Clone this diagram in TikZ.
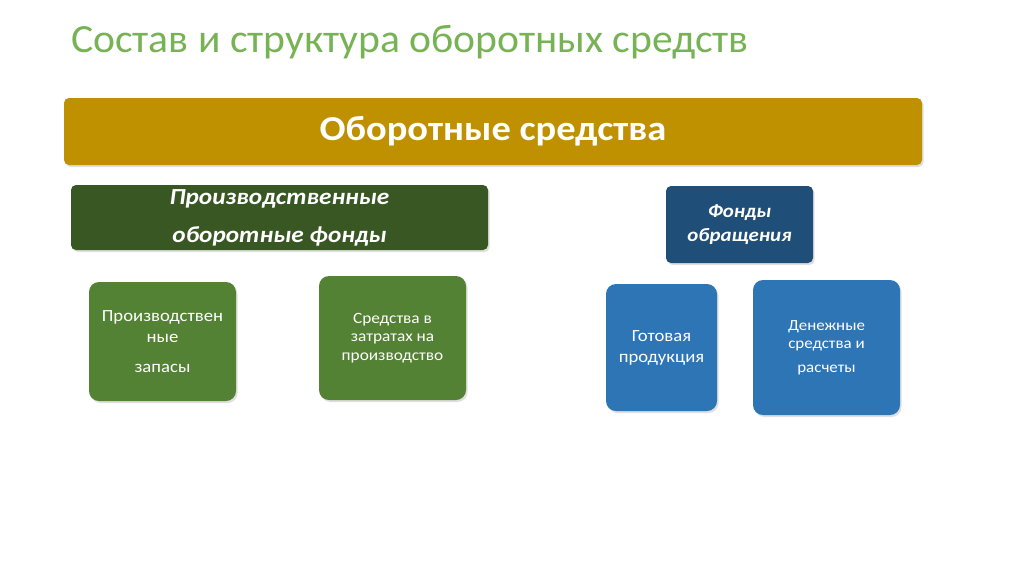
\documentclass[tikz,border=0pt]{standalone}
\usepackage{fontspec}
\setmainfont{Carlito}
\newfontfamily\widefont[FakeStretch=1.1]{Carlito}
\newfontfamily\titlefont[FakeStretch=1.04]{Carlito}
\usepackage{tikz}
\usetikzlibrary{positioning,shadows}
\definecolor{titlegreen}{RGB}{119,178,85}
\definecolor{goldbar}{RGB}{191,144,0}
\definecolor{darkgreen}{RGB}{56,87,35}
\definecolor{midgreen}{RGB}{84,130,53}
\definecolor{darkblue}{RGB}{31,78,121}
\definecolor{midblue}{RGB}{46,117,182}

\begin{document}
\begin{tikzpicture}[
            x=1pt, y=-1pt,
            box/.style={rectangle, rounded corners=10pt, inner sep=2pt, align=center,
                        text=white, drop shadow={opacity=0.25, shadow xshift=1.5pt, shadow yshift=-2pt}},
            head/.style={box, rounded corners=5pt}
        ]
            \useasboundingbox (0,0) rectangle (1024,574);
            \fill[white] (0,0) rectangle (1024,574);

            \node[anchor=west, inner sep=0pt, text=titlegreen, font=\titlefont\fontsize{40}{48}\selectfont] (title) at (71,42)
                {Состав и структура оборотных средств};

            \node[box, rounded corners=5pt, fill=goldbar, minimum width=858pt, minimum height=67pt,
                  font=\widefont\bfseries\fontsize{35}{40}\selectfont] (main) at (493,131.5) {Оборотные средства};

            % производственные оборотные фонды
            \node[head, fill=darkgreen, minimum width=417pt, minimum height=65pt,
                  font=\widefont\bfseries\itshape\fontsize{23}{26}\selectfont] (prod) at (279.5,217.5)
                {Производственные\\[12pt] оборотные фонды};

            \node[box, fill=midgreen, minimum width=147pt, minimum height=119pt,
                  font=\widefont\fontsize{17}{21}\selectfont] (zapasy) at (162.5,341.5)
                {Производствен\\ ные\\[9pt] запасы};

            \node[box, fill=midgreen, minimum width=147pt, minimum height=124pt,
                  font=\widefont\fontsize{15.7}{18.5}\selectfont] (zatraty) at (392.5,338)
                {Средства в\\ затратах на\\ производство};

            % фонды обращения
            \node[head, fill=darkblue, minimum width=147pt, minimum height=77pt,
                  font=\widefont\bfseries\itshape\fontsize{19}{24}\selectfont] (obr) at (739.5,224.5)
                {Фонды\\ обращения};

            \node[box, fill=midblue, minimum width=111pt, minimum height=127pt,
                  font=\widefont\fontsize{17}{21}\selectfont] (gotov) at (661.5,347.5)
                {Готовая\\ продукция};

            \node[box, fill=midblue, minimum width=147pt, minimum height=135pt,
                  font=\widefont\fontsize{15.4}{18.5}\selectfont] (dengi) at (826.5,347.5)
                {Денежные\\ средства и\\[5pt] расчеты};
        \end{tikzpicture}
\end{document}
